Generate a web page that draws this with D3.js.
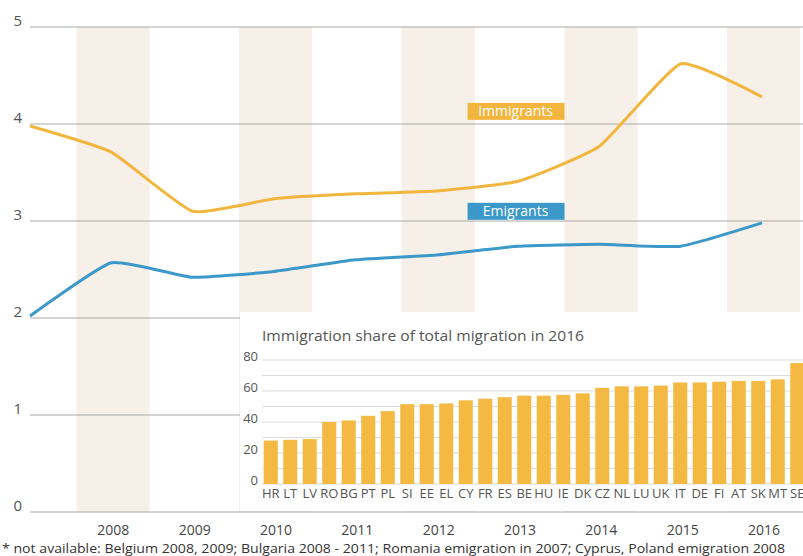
<!DOCTYPE html>
<html>
<head>
<meta charset="utf-8">
<script src="https://cdn.jsdelivr.net/npm/d3@7"></script>
<style>
  body { margin: 0; background: #fff; }
  #chart { width: 803px; height: 556px; }
  text { font-family: "Open Sans", "DejaVu Sans", sans-serif; }
</style>
</head>
<body>
<div id="chart"></div>
<script>
// main chart data
const years = [2007, 2008, 2009, 2010, 2011, 2012, 2013, 2014, 2015, 2016];
const immigrants = [3.98, 3.71, 3.10, 3.23, 3.28, 3.31, 3.41, 3.77, 4.62, 4.28];
const emigrants = [2.02, 2.57, 2.42, 2.48, 2.60, 2.65, 2.74, 2.76, 2.74, 2.98];
const yTicks = [0, 1, 2, 3, 4, 5];
const yearLabels = [2008, 2009, 2010, 2011, 2012, 2013, 2014, 2015, 2016];
const bandYears = [2008, 2010, 2012, 2014, 2016];

// inset data
const countries = ["HR", "LT", "LV", "RO", "BG", "PT", "PL", "SI", "EE", "EL", "CY", "FR", "ES", "BE",
  "HU", "IE", "DK", "CZ", "NL", "LU", "UK", "IT", "DE", "FI", "AT", "SK", "MT", "SE"];
const shares = [28, 28.5, 29, 40, 41, 44, 47, 51.5, 51.5, 52, 54, 55, 56, 57,
  57, 57.5, 58.5, 62, 63, 63, 63.5, 65.5, 65.5, 66, 66.5, 66.5, 67.5, 78];
const insetTicks = [0, 20, 40, 60, 80];

const width = 803, height = 556;
const orange = "#f2b63f", blue = "#3b98c8";

const svg = d3.select("#chart").append("svg")
  .attr("width", width)
  .attr("height", height);

const x = d3.scaleLinear().domain([2007, 2016]).range([30, 762]);
const y = d3.scaleLinear().domain([0, 5]).range([512, 27]);

// shaded year bands
svg.selectAll(".band")
  .data(bandYears)
  .enter()
  .append("rect")
  .attr("class", "band")
  .attr("x", d => x(d - 0.43))
  .attr("width", x(2007.9) - x(2007))
  .attr("y", y(5))
  .attr("height", y(0) - y(5))
  .attr("fill", "#f6f0e8");

// gridlines + tick labels
svg.selectAll(".grid")
  .data(yTicks)
  .enter()
  .append("line")
  .attr("class", "grid")
  .attr("x1", 30)
  .attr("x2", width)
  .attr("y1", d => y(d))
  .attr("y2", d => y(d))
  .attr("stroke", "#a9a9a9")
  .attr("stroke-width", 1);

svg.selectAll(".ylab")
  .data(yTicks)
  .enter()
  .append("text")
  .attr("class", "ylab")
  .attr("x", 22)
  .attr("y", d => y(d) - 1)
  .attr("text-anchor", "end")
  .attr("font-size", 15)
  .attr("fill", "#555")
  .text(d => d);

// lines
const line = d3.line()
  .x((d, i) => x(years[i]))
  .y(d => y(d))
  .curve(d3.curveCardinal.tension(0.55));

svg.append("path")
  .attr("d", line(immigrants))
  .attr("fill", "none")
  .attr("stroke", orange)
  .attr("stroke-width", 3);

svg.append("path")
  .attr("d", line(emigrants))
  .attr("fill", "none")
  .attr("stroke", blue)
  .attr("stroke-width", 3);

// series labels
const seriesLabels = [
  { name: "Immigrants", year: 2012.97, value: 4.13, color: orange },
  { name: "Emigrants", year: 2012.97, value: 3.10, color: blue }
];

const lab = svg.selectAll(".slabel")
  .data(seriesLabels)
  .enter()
  .append("g")
  .attr("class", "slabel")
  .attr("transform", d => `translate(${x(d.year)},${y(d.value)})`);

lab.append("rect")
  .attr("x", -48)
  .attr("y", -8.5)
  .attr("width", 97)
  .attr("height", 17)
  .attr("fill", d => d.color);

lab.append("text")
  .attr("x", 0)
  .attr("y", 5)
  .attr("text-anchor", "middle")
  .attr("font-size", 14)
  .attr("fill", "#fff")
  .text(d => d.name);

// inset
const inset = svg.append("g");

inset.append("rect")
  .attr("x", 240)
  .attr("y", 312)
  .attr("width", width - 240)
  .attr("height", 199)
  .attr("fill", "#fff");

inset.append("text")
  .attr("x", 262)
  .attr("y", 341)
  .attr("font-size", 14)
  .attr("fill", "#555")
  .attr("textLength", 322)
  .attr("lengthAdjust", "spacingAndGlyphs")
  .text("Immigration share of total migration in 2016");

const xb = d3.scaleBand()
  .domain(countries)
  .range([261, 807])
  .paddingInner(0.28)
  .paddingOuter(0.14);

const yb = d3.scaleLinear().domain([0, 80]).range([484, 360]);

inset.selectAll(".igrid")
  .data(d3.range(0, 90, 10))
  .enter()
  .append("line")
  .attr("class", "igrid")
  .attr("x1", 262)
  .attr("x2", width)
  .attr("y1", d => yb(d))
  .attr("y2", d => yb(d))
  .attr("stroke", "#dcdcdc")
  .attr("stroke-width", 1);

inset.selectAll(".bar")
  .data(shares)
  .enter()
  .append("rect")
  .attr("class", "bar")
  .attr("x", (d, i) => xb(countries[i]))
  .attr("width", xb.bandwidth())
  .attr("y", d => yb(d))
  .attr("height", d => yb(0) - yb(d))
  .attr("fill", "#f4b942");

inset.selectAll(".iylab")
  .data(insetTicks)
  .enter()
  .append("text")
  .attr("class", "iylab")
  .attr("x", 258)
  .attr("y", d => yb(d) + 1)
  .attr("text-anchor", "end")
  .attr("font-size", 13)
  .attr("fill", "#555")
  .text(d => d);

inset.selectAll(".clab")
  .data(countries)
  .enter()
  .append("text")
  .attr("class", "clab")
  .attr("x", d => xb(d) + xb.bandwidth() / 2)
  .attr("y", 498)
  .attr("text-anchor", "middle")
  .attr("font-size", 13)
  .attr("font-family", "'DejaVu Sans Condensed', 'Open Sans', sans-serif")
  .attr("fill", "#555")
  .text(d => d);

// x labels
svg.selectAll(".xlab")
  .data(yearLabels)
  .enter()
  .append("text")
  .attr("class", "xlab")
  .attr("x", d => x(d) + 2)
  .attr("y", 535)
  .attr("text-anchor", "middle")
  .attr("font-size", 14)
  .attr("fill", "#444")
  .text(d => d);

// footnote
svg.append("text")
  .attr("x", 2)
  .attr("y", 553)
  .attr("font-size", 12.5)
  .attr("fill", "#333")
  .attr("textLength", 783)
  .attr("lengthAdjust", "spacingAndGlyphs")
  .text("* not available: Belgium 2008, 2009; Bulgaria 2008 - 2011; Romania emigration in 2007; Cyprus, Poland emigration 2008");
</script>
</body>
</html>
